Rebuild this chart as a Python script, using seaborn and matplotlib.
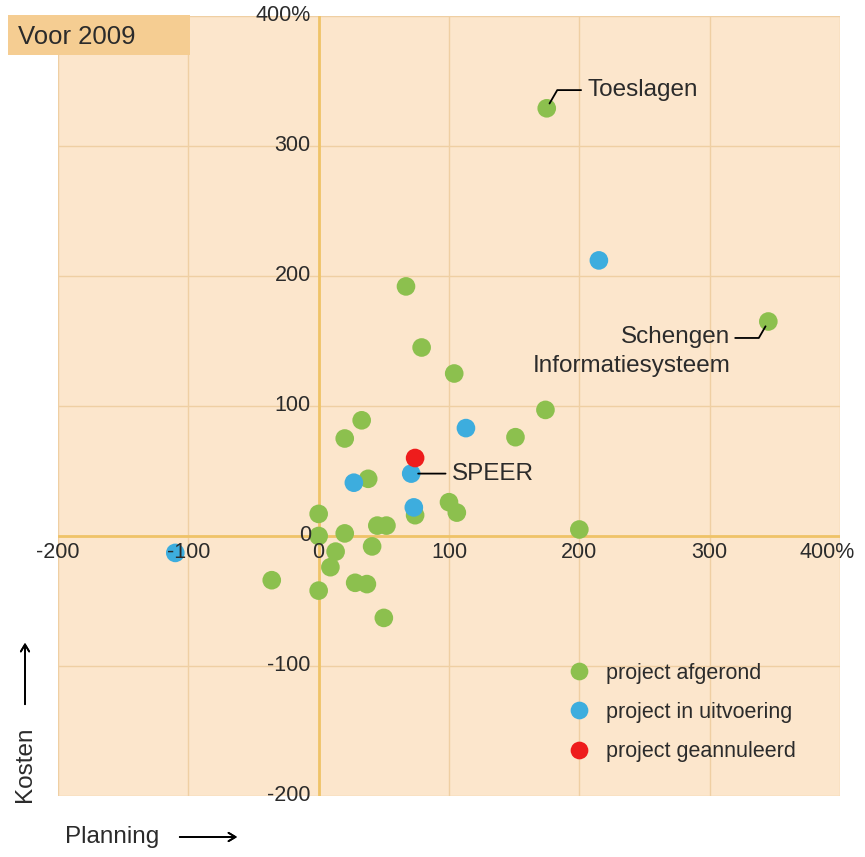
import matplotlib
matplotlib.use("Agg")
import matplotlib.pyplot as plt
import seaborn as sns
import pandas as pd
from matplotlib.patches import Rectangle

# data: planning overrun (%) vs cost overrun (%)
green_x = [33, 20, 151, 174, 38, 74, 100, 106, 0, 45, 52, 0, 20, 13, 41, 9, -36, 0, 28, 37, 50, 67, 79, 104, 175, 345, 200]
green_y = [89, 75, 76, 97, 44, 16, 26, 18, 17, 8, 8, 0, 2, -12, -8, -24, -34, -42, -36, -37, -63, 192, 145, 125, 329, 165, 5]
blue_x = [-110, 27, 71, 73, 113, 215]
blue_y = [-13, 41, 48, 22, 83, 212]
red_x = [74]
red_y = [60]

status = ['project afgerond', 'project in uitvoering', 'project geannuleerd']
colors = ['#8cc04e', '#3dadde', '#ee1c1c']

ticks = [-200, -100, 0, 100, 200, 300, 400]
tick_labels = ['-200', '-100', '0', '100', '200', '300', '400%']

df = pd.DataFrame({
    'planning': green_x + blue_x + red_x,
    'kosten': green_y + blue_y + red_y,
    'status': [status[0]] * len(green_x) + [status[1]] * len(blue_x) + [status[2]] * len(red_x),
})

sns.set_style('white')
plt.rcParams['font.family'] = ['Liberation Sans', 'DejaVu Sans']
text_col = '#2b2b2b'

fig = plt.figure(figsize=(8.65, 8.57), dpi=100)
ax = fig.add_axes([58 / 865, 1 - 796 / 857, 782 / 865, 780 / 857])
ax.set_facecolor('#fce6cc')

# grid
for t in ticks:
    ax.axvline(t, color='#efcfa3', lw=1, zorder=0)
    ax.axhline(t, color='#efcfa3', lw=1, zorder=0)
ax.axvline(0, color='#efc368', lw=2, zorder=1)
ax.axhline(0, color='#efc368', lw=2, zorder=1)

sns.scatterplot(data=df, x='planning', y='kosten', hue='status', hue_order=status,
                palette=colors, s=180, linewidth=0, ax=ax, zorder=3)

ax.set_xlim(-200, 400)
ax.set_ylim(-200, 400)
ax.set_xticks([])
ax.set_yticks([])
ax.set_xlabel('')
ax.set_ylabel('')
sns.despine(ax=ax, left=True, bottom=True)

# tick labels on the zero axes
for t, lab in zip(ticks, tick_labels):
    if t == 400:
        ax.text(t + 11, -13, lab, ha='right', va='center', fontsize=15.5, color=text_col)
    else:
        ax.text(t, -13, lab, ha='center', va='center', fontsize=15.5, color=text_col)
    ax.text(-6, t, lab, ha='right', va='center', fontsize=15.5, color=text_col)

# annotations
ax.annotate('Toeslagen', xy=(175, 329), xytext=(206, 343), fontsize=17.5, color=text_col,
            ha='left', va='center',
            arrowprops=dict(arrowstyle='-', color='black', lw=1.3, shrinkA=2, shrinkB=4,
                            connectionstyle='angle,angleA=0,angleB=60,rad=0'))
ax.annotate('Schengen\nInformatiesysteem', xy=(345, 165), xytext=(316, 142), fontsize=17.5,
            color=text_col, ha='right', va='center', multialignment='right', linespacing=1.45,
            arrowprops=dict(arrowstyle='-', color='black', lw=1.3, shrinkA=1, shrinkB=4,
                            relpos=(1, 0.76),
                            connectionstyle='angle,angleA=0,angleB=60,rad=0'))
ax.annotate('SPEER', xy=(71, 48), xytext=(102, 48), fontsize=17.5, color=text_col,
            ha='left', va='center',
            arrowprops=dict(arrowstyle='-', color='black', lw=1.3, shrinkA=2, shrinkB=5))

# legend
handles, labels = ax.get_legend_handles_labels()
leg = ax.legend(handles, labels, loc='upper left', bbox_to_anchor=(0.628, 0.182),
                frameon=False, fontsize=15.5, labelspacing=0.85, handletextpad=0.25,
                markerscale=0.95, borderaxespad=0)
for txt in leg.get_texts():
    txt.set_color(text_col)

# "Voor 2009" tag
fig.patches.append(Rectangle((8 / 865, 1 - 55 / 857), 182 / 865, 40 / 857,
                             transform=fig.transFigure, facecolor='#f5cd92',
                             edgecolor='none', zorder=5))
fig.text(18 / 865, 1 - 37 / 857, 'Voor 2009', fontsize=18.5, color=text_col,
         ha='left', va='center', zorder=6)

# axis titles with long arrows
fig.text(25 / 865, 1 - 802 / 857, 'Kosten', rotation=90, fontsize=17.5,
         color=text_col, ha='center', va='bottom')
fig.text(65 / 865, 1 - 837 / 857, 'Planning', fontsize=17.5,
         color=text_col, ha='left', va='center')
arrow = dict(arrowstyle='->,head_length=0.5,head_width=0.3', color='black', lw=1.3)
fig.add_artist(plt.annotate('', xy=(25 / 865, 1 - 640 / 857), xytext=(25 / 865, 1 - 707 / 857),
                            xycoords='figure fraction', arrowprops=arrow))
fig.add_artist(plt.annotate('', xy=(240 / 865, 1 - 837 / 857), xytext=(177 / 865, 1 - 837 / 857),
                            xycoords='figure fraction', arrowprops=arrow))

fig.savefig('out.png', dpi=100, facecolor='white')
